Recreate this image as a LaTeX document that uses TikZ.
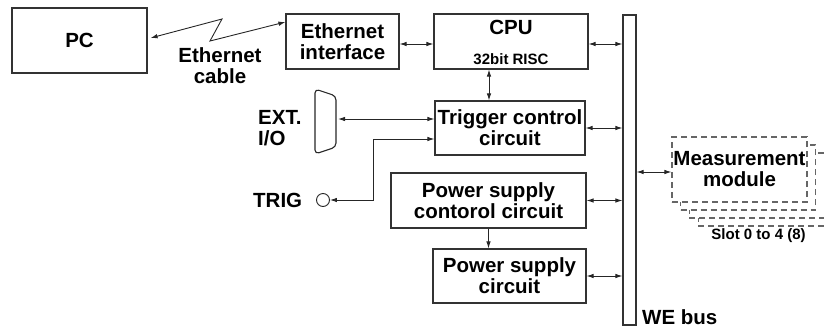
\documentclass[tikz,border=0pt]{standalone}
\usepackage{fontspec}
\setmainfont{Liberation Sans}
\usetikzlibrary{arrows.meta}
\begin{document}
\begin{tikzpicture}[x=1pt,y=-1pt,
  box/.style={draw=black!80, line width=1.1pt, inner sep=0pt, align=center,
    font=\bfseries\fontsize{20.5}{21}\selectfont},
  lbl/.style={inner sep=0pt, align=center, font=\bfseries\fontsize{20.5}{21}\selectfont},
  small/.style={inner sep=0pt, font=\bfseries\fontsize{15}{16}\selectfont},
  dbox/.style={draw=black!60, dash pattern=on 6pt off 4pt, line width=1.1pt, fill=white,
    minimum width=135pt, minimum height=65pt, inner sep=0pt, align=center,
    font=\bfseries\fontsize{20.5}{21}\selectfont},
  tip/.tip={Latex[length=7pt,width=4.5pt]},
  arr/.style={tip-tip, line width=0.9pt, draw=black!85},
  arrone/.style={-tip, line width=0.9pt, draw=black!85}]
\useasboundingbox (0,0) rectangle (824,327);
\clip (0,0) rectangle (824,327);

% main blocks
\node[box, minimum width=135pt, minimum height=65pt] (pc) at (79.5,40.5) {PC};
\node[box, minimum width=113pt, minimum height=55pt] (eth) at (342.5,41.5) {Ethernet\\interface};
\node[box, minimum width=154pt, minimum height=55pt] (cpu) at (511,41.5) {};
\node[lbl] (cputxt) at (511,27) {CPU};
\node[small] (risc) at (511,59.5) {32bit RISC};
\node[box, minimum width=150pt, minimum height=54pt] (tc) at (510,128) {Trigger control\\circuit};
\node[box, minimum width=195pt, minimum height=55pt] (psc) at (488.5,200.5) {Power supply\\contorol circuit};
\node[box, minimum width=153pt, minimum height=54pt] (ps) at (509.5,276) {Power supply\\circuit};
\node[draw=black!80, line width=1.1pt, minimum width=13pt, minimum height=310pt, inner sep=0pt] (bus) at (629.5,170) {};
\node[lbl, anchor=base west] (we) at (642,324) {WE bus};

% measurement modules
\node[dbox] (m4) at (765.6,193.5) {};
\node[dbox] (m3) at (756.9,185.5) {};
\node[dbox] (m2) at (748.2,177.5) {};
\node[dbox] (mm) at (739.5,169.5) {Measurement\\module};
\node[small] (slot) at (758.5,235.5) {Slot 0 to 4 (8)};

% labels
\node[lbl] (cable) at (220,66) {Ethernet\\cable};
\node[lbl, align=left, anchor=base west] (ext) at (258,145) {EXT.\\I/O};
\node[lbl, anchor=base west] (trig) at (253,207) {TRIG};
\node[draw=black!85, circle, minimum size=13pt, inner sep=0pt, line width=0.9pt] (jack) at (323,200) {};

% D-sub connector
\draw[line width=1.1pt, draw=black!85, rounded corners=4pt]
  (315,120) -- (315,89) -- (336,96) -- (336,147) -- (315,154) -- cycle;
\coordinate (conn) at (338,119);

% helper coordinates
\coordinate (z1) at (222,19);
\coordinate (z2) at (210,41);
\coordinate (pcout) at ([xshift=3pt,yshift=2.5pt]pc.east);
\coordinate (ethin) at ([yshift=19.5pt]eth.west);
\coordinate (ethout) at ([yshift=-2.5pt]eth.east);
\coordinate (cpuout) at ([yshift=-2.5pt]cpu.east);
\coordinate (v1) at ([xshift=-22pt]cpu.south);
\coordinate (tcin) at ([yshift=-11pt]tc.west);
\coordinate (bend) at (373,0);
\coordinate (mmin) at ([yshift=-2.5pt]mm.west);

% connectors
\draw[arr] (pcout) -- (z1) -- (z2) -- (ethin);
\draw[arr] (ethout) -- (ethout -| cpu.west);
\draw[arr] (cpuout) -- (cpuout -| bus.west);
\draw[arr] (v1) -- (v1 |- tc.north);
\draw[arr] (conn) -- (conn -| tc.west);
\draw[arr] (jack.east) -| (bend |- tcin) -- (tcin);
\draw[arr] (tc.east) -- (tc.east -| bus.west);
\draw[arr] (psc.east) -- (psc.east -| bus.west);
\draw[arrone] (psc.south) -- (psc.south |- ps.north);
\draw[arr] (ps.east) -- (ps.east -| bus.west);
\draw[arr] (bus.east |- mmin) -- (mmin);
\end{tikzpicture}
\end{document}
